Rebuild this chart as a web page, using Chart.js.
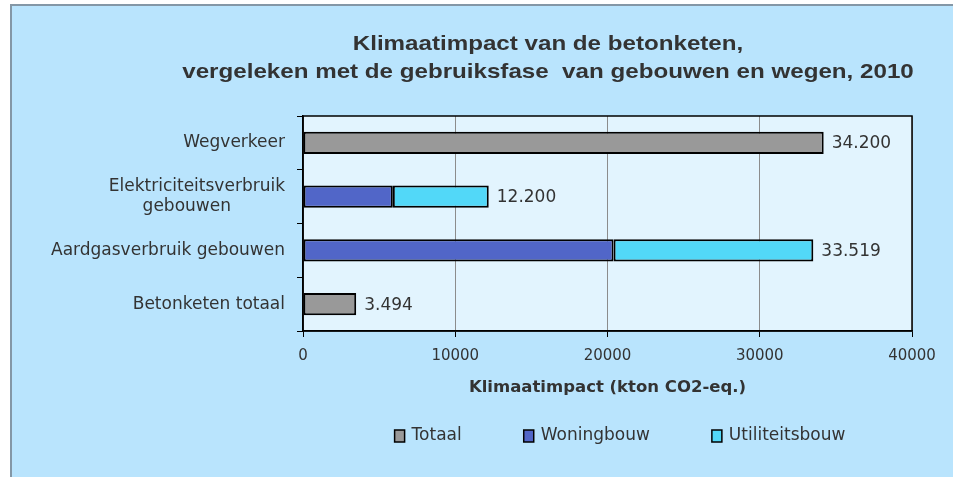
<!DOCTYPE html>
<html>
<head>
<meta charset="utf-8">
<script src="https://cdn.jsdelivr.net/npm/chart.js@4"></script>
<style>
  html, body { margin: 0; padding: 0; background: #fff; }
  #wrap { width: 953px; height: 477px; }
</style>
</head>
<body>
<div id="wrap"><canvas id="chart" width="953" height="477"></canvas></div>
<script>
const categories = ['Wegverkeer', ['Elektriciteitsverbruik', 'gebouwen' + '\u00a0'.repeat(10)], 'Aardgasverbruik gebouwen', 'Betonketen totaal'];
const totaal = [34200, null, null, 3494];
const woningbouw = [null, 5900, 20400, null];
const utiliteitsbouw = [null, 6300, 13119, null];
const totals = [34200, 12200, 33519, 3494];
const titleLines = ['Klimaatimpact van de betonketen,', 'vergeleken met de gebruiksfase  van gebouwen en wegen, 2010'];
const axisTitle = 'Klimaatimpact (kton CO2-eq.)';

const textColor = '#333333';
const labelFont = '17px "DejaVu Sans"';

function dutch(n) {
    return String(n).replace(/\B(?=(\d{3})+(?!\d))/g, '.');
}

// background, frame, title, value labels and legend
const decor = {
    id: 'decor',
    beforeDraw(chart) {
        const ctx = chart.ctx;
        const a = chart.chartArea;
        ctx.save();
        ctx.fillStyle = '#ffffff';
        ctx.fillRect(0, 0, chart.width, chart.height);
        ctx.fillStyle = '#b9e4fd';
        ctx.fillRect(11, 5, chart.width - 11, chart.height - 5);
        ctx.strokeStyle = '#8497a6';
        ctx.lineWidth = 2;
        ctx.beginPath();
        ctx.moveTo(11, chart.height);
        ctx.lineTo(11, 5);
        ctx.lineTo(chart.width, 5);
        ctx.stroke();
        ctx.fillStyle = '#e2f4fe';
        ctx.fillRect(a.left, a.top, a.right - a.left, a.bottom - a.top);
        ctx.restore();
    },
    afterDraw(chart) {
        const ctx = chart.ctx;
        const a = chart.chartArea;
        const xs = chart.scales.x;
        const ys = chart.scales.y;
        ctx.save();
        ctx.strokeStyle = '#000';
        ctx.lineWidth = 1.5;
        ctx.strokeRect(a.left, a.top, a.right - a.left, a.bottom - a.top);

        // title, glyphs a bit stretched like the original
        ctx.save();
        ctx.fillStyle = textColor;
        ctx.font = 'bold 21px "Liberation Sans"';
        ctx.textAlign = 'center';
        ctx.textBaseline = 'alphabetic';
        ctx.translate(548, 0);
        ctx.scale(1.15, 1);
        ctx.fillText(titleLines[0], 0, 50);
        ctx.fillText(titleLines[1], 0, 78);
        ctx.restore();

        // totals at bar ends
        ctx.font = labelFont;
        ctx.fillStyle = textColor;
        ctx.textAlign = 'left';
        ctx.textBaseline = 'middle';
        totals.forEach((v, i) => {
            ctx.fillText(dutch(v), xs.getPixelForValue(v) + 8, ys.getPixelForValue(i) + 1);
        });

        // legend
        const items = chart.data.datasets.map(d => ({ label: d.label, color: d.backgroundColor }));
        const box = 11, gapBox = 6, gapItem = 62;
        ctx.font = labelFont;
        let total = 0;
        items.forEach((it, i) => {
            it.w = ctx.measureText(it.label).width;
            total += box + gapBox + it.w + (i < items.length - 1 ? gapItem : 0);
        });
        let x = 620 - total / 2;
        const y = 436;
        items.forEach(it => {
            ctx.fillStyle = it.color;
            ctx.fillRect(x, y - 6, box - 1, box + 1);
            ctx.strokeStyle = '#000';
            ctx.lineWidth = 1.5;
            ctx.strokeRect(x, y - 6, box - 1, box + 1);
            ctx.fillStyle = textColor;
            ctx.fillText(it.label, x + box + gapBox, y);
            x += box + gapBox + it.w + gapItem;
        });
        ctx.restore();
    }
};

new Chart(document.getElementById('chart'), {
    type: 'bar',
    data: {
        labels: categories,
        datasets: [
            { label: 'Totaal', data: totaal, backgroundColor: '#999999' },
            { label: 'Woningbouw', data: woningbouw, backgroundColor: '#5166c8' },
            { label: 'Utiliteitsbouw', data: utiliteitsbouw, backgroundColor: '#52d8f8' }
        ]
    },
    options: {
        indexAxis: 'y',
        responsive: false,
        animation: false,
        devicePixelRatio: 1,
        layout: { padding: { left: 0, right: 41, top: 116, bottom: 71 } },
        datasets: {
            bar: {
                borderColor: '#000',
                borderWidth: 2,
                borderSkipped: false,
                barPercentage: 0.41,
                categoryPercentage: 1
            }
        },
        scales: {
            x: {
                stacked: true,
                min: 0,
                max: 40000,
                ticks: {
                    stepSize: 10000,
                    padding: 10,
                    color: textColor,
                    font: { family: 'DejaVu Sans', size: 15 },
                    callback: v => String(v)
                },
                grid: { color: '#8c8c8c', tickColor: '#000', tickLength: 6 },
                border: { color: '#000', width: 1.5 },
                title: {
                    display: true,
                    text: axisTitle,
                    color: textColor,
                    font: { family: 'DejaVu Sans', size: 16.5, weight: 'bold' },
                    padding: { top: 4, bottom: 8 }
                },
                afterFit: s => { s.height = 75; }
            },
            y: {
                stacked: true,
                ticks: {
                    padding: 12,
                    color: textColor,
                    font: { family: 'DejaVu Sans', size: 17 }
                },
                grid: { drawOnChartArea: false, tickColor: '#000', tickLength: 6 },
                border: { color: '#000', width: 1.5 },
                afterFit: s => { s.width = 303; }
            }
        },
        plugins: {
            legend: { display: false },
            title: { display: false },
            tooltip: { enabled: false }
        }
    },
    plugins: [decor]
});
</script>
</body>
</html>
